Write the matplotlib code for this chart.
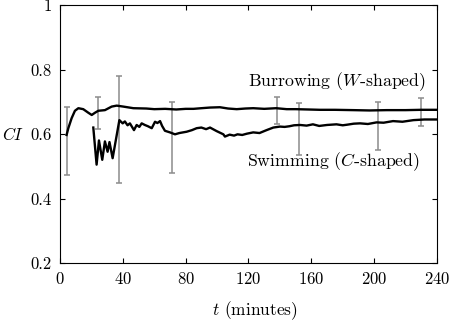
import matplotlib
matplotlib.use("Agg")
import matplotlib.pyplot as plt
import numpy as np

plt.rcParams['font.family'] = 'cmr10'
plt.rcParams['mathtext.fontset'] = 'cm'
plt.rcParams['axes.unicode_minus'] = False
plt.rcParams['axes.formatter.use_mathtext'] = True

# burrowing (W-shaped) curve
t_burrow = [4.2, 5.3, 7.4, 9.5, 11.7, 14.8, 18, 20.2, 22.3, 24.4, 28.6, 32.9, 36.1, 40.3,
            46.7, 55, 60, 67, 74, 80, 85, 90, 95.5, 101.8, 107, 112.5, 118, 123, 130, 137.6,
            144.3, 150, 158, 165.5, 175, 186.7, 197, 208, 220, 230, 240]
ci_burrow = [0.597, 0.618, 0.649, 0.672, 0.68, 0.677, 0.666, 0.659, 0.666, 0.672, 0.674, 0.685, 0.688, 0.685,
             0.68, 0.679, 0.677, 0.678, 0.676, 0.678, 0.678, 0.68, 0.682, 0.683, 0.679, 0.677, 0.679, 0.68,
             0.678, 0.68, 0.677, 0.677, 0.676, 0.675, 0.675, 0.674, 0.673, 0.674, 0.674, 0.675, 0.675]

# swimming (C-shaped) curve
t_swim = [21.2, 23.3, 24.8, 26.9, 28.6, 30.3, 31.5, 33.5, 37.8, 39.9, 41.3, 43, 44.5, 47.1,
          48.8, 50.5, 52, 54, 56, 58.4, 60.5, 62, 63.7, 65, 66.8, 70, 73.2, 76, 80.6,
          84, 87, 90, 93, 95.5, 99.7, 104, 105, 108, 110.8, 113, 116, 119, 123, 127, 131.5, 135.8, 140,
          143, 146, 149, 152.8, 157, 161, 165, 170, 176, 180, 183, 187, 191, 196, 201.5, 206,
          212, 218, 225, 232, 240]
ci_swim = [0.62, 0.505, 0.58, 0.52, 0.577, 0.545, 0.575, 0.525, 0.643, 0.633, 0.639, 0.627, 0.633, 0.612,
           0.628, 0.622, 0.633, 0.628, 0.624, 0.618, 0.638, 0.634, 0.64, 0.625, 0.61, 0.605, 0.599, 0.603, 0.607,
           0.612, 0.618, 0.62, 0.615, 0.62, 0.609, 0.599, 0.592, 0.598, 0.595, 0.599, 0.597, 0.601, 0.605,
           0.603, 0.612, 0.62, 0.623,
           0.622, 0.624, 0.627, 0.628, 0.626, 0.63, 0.625, 0.628, 0.63, 0.627, 0.629, 0.632, 0.633, 0.631,
           0.636, 0.635, 0.64, 0.638, 0.643, 0.645, 0.645]

# error bars (gray)
t_err = [4.2, 24.4, 37.8, 71.1, 137.9, 152.1, 202.2, 229.6]
err_low = [0.473, 0.615, 0.449, 0.478, 0.631, 0.534, 0.55, 0.625]
err_high = [0.685, 0.714, 0.78, 0.7, 0.716, 0.697, 0.699, 0.711]

fig = plt.figure(figsize=(4.5, 3.24), dpi=100)
ax = fig.add_axes([60 / 450, 61 / 324, 377 / 450, 258 / 324])

lo = np.array(err_low)
hi = np.array(err_high)
ax.errorbar(t_err, (lo + hi) / 2, yerr=(hi - lo) / 2, fmt='none', ecolor='#8c8c8c',
            elinewidth=1.1, capsize=2.3, capthick=1.1, zorder=1)

ax.plot(t_burrow, ci_burrow, color='black', lw=1.7, zorder=2)
ax.plot(t_swim, ci_swim, color='black', lw=1.7, zorder=2)

ax.text(176.3, 0.761, r'Burrowing ($W$-shaped)', fontsize=12.8, ha='center', va='center')
ax.text(173.8, 0.513, r'Swimming ($C$-shaped)', fontsize=12.8, ha='center', va='center')

ax.set_xlim(0, 240)
ax.set_ylim(0.2, 1.0)
ax.set_xticks([0, 40, 80, 120, 160, 200, 240])
ax.set_yticks([0.2, 0.4, 0.6, 0.8, 1.0])
ax.set_yticklabels(['0.2', '0.4', '0.6', '0.8', '1'])
ax.tick_params(direction='in', length=3.5, width=0.8, top=True, right=True,
               labelsize=12, pad=6)
for s in ax.spines.values():
    s.set_linewidth(0.8)

ax.set_ylabel(r'$CI$', fontsize=12, rotation=0, va='center', ha='left')
ax.yaxis.set_label_coords(-0.155, 0.5)
ax.set_xlabel(r'$t$ (minutes)', fontsize=12.5, va='center')
ax.xaxis.set_label_coords(0.517, -0.185)

fig.savefig('out.png', dpi=100)
